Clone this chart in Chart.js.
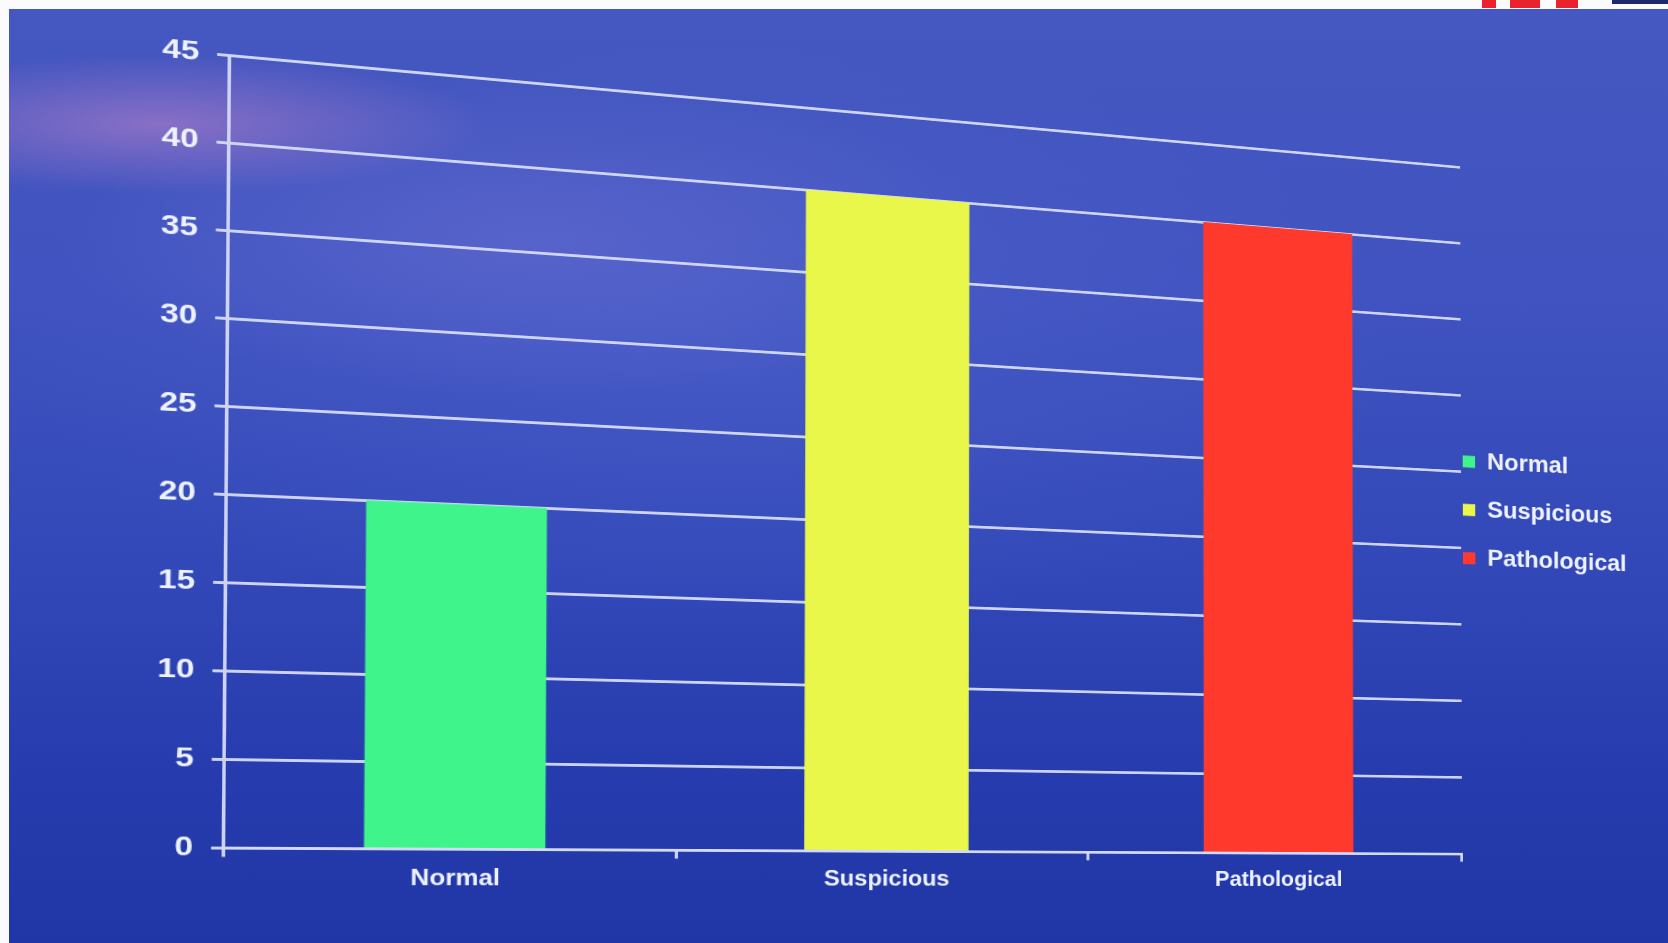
<!DOCTYPE html>
<html>
<head>
<meta charset="utf-8">
<script src="https://cdn.jsdelivr.net/npm/chart.js@4.4.1/dist/chart.umd.min.js"></script>
<style>
  html, body { margin: 0; padding: 0; width: 1668px; height: 943px; overflow: hidden; background: #fbfbfd; }
  #screen {
    position: absolute; left: 9px; top: 9px; right: 0; bottom: 0;
    background:
      radial-gradient(ellipse 330px 70px at 150px 115px, rgba(160, 120, 200, 0.75), rgba(160, 120, 200, 0) 100%),
      radial-gradient(ellipse 460px 160px at 520px 230px, rgba(120, 120, 215, 0.35), rgba(120, 120, 215, 0) 100%),
      radial-gradient(ellipse 700px 300px at 700px 330px, rgba(90, 110, 215, 0.3), rgba(90, 110, 215, 0) 100%),
      linear-gradient(180deg, #4557c0 0%, #4053c0 30%, #3248b8 60%, #263bad 82%, #2136a6 100%);
  }
  .logo { position: absolute; top: 0; height: 8px; }
  #chartWrap { position: absolute; left: 0; top: 0; width: 1668px; height: 943px; }
  #myChart { position: absolute; left: 0; top: 0; transform-origin: 0 0; }
</style>
</head>
<body>
<div id="screen"></div>
<div class="logo" style="left:1482px;width:14px;background:#e8232d"></div>
<div class="logo" style="left:1510px;width:30px;background:#e8232d"></div>
<div class="logo" style="left:1556px;width:22px;background:#e8232d"></div>
<div class="logo" style="left:1612px;width:56px;height:4px;background:#1c2a6e"></div>
<div id="chartWrap"><canvas id="myChart" width="1668" height="943"></canvas></div>
<script>
// chart data
const categories = ['Normal', 'Suspicious', 'Pathological'];
const values = [20, 40, 40];
const barColors = ['#3ff48a', '#e9f64a', '#ff392c'];
const yMin = 0;
const yMax = 45;
const yStep = 5;

const lineColor = 'rgba(212, 218, 248, 0.95)';
const textColor = '#eef2ff';
const legendGap = 30;

// where the plot rectangle lands on the slanted screen (TL, TR, BR, BL)
const screenCorners = [[229, 55], [1460, 167], [1462, 854], [223, 848]];

const ctx = document.getElementById('myChart');

// pull the legend in so the swatches sit right at the end of the grid
const legendShift = {
    id: 'legendShift',
    afterUpdate(chart) {
        const lg = chart.legend
        if (!lg) return
        lg.left -= legendGap - 2
        lg.right -= legendGap - 2
    }
}

const config = {
    type: 'bar',
    data: {
        labels: categories,
        datasets: [{
            label: 'Value',
            data: values,
            backgroundColor: barColors,
            borderWidth: 0,
            barPercentage: 0.4,
            categoryPercentage: 1
        }]
    },
    options: {
        responsive: false,
        animation: false,
        layout: {
            padding: { left: 164, top: 40, right: 0, bottom: 40 }
        },
        plugins: {
            tooltip: { enabled: false },
            legend: {
                position: 'right',
                fullSize: false,
                labels: {
                    color: textColor,
                    font: { family: 'Liberation Sans', size: 27, weight: 'bold' },
                    boxWidth: 14,
                    boxHeight: 14,
                    padding: legendGap,
                    generateLabels: (chart) => categories.map((name, i) => ({
                        text: name,
                        fillStyle: barColors[i],
                        strokeStyle: barColors[i],
                        lineWidth: 0,
                        fontColor: textColor,
                        hidden: false,
                        index: i
                    }))
                }
            }
        },
        scales: {
            x: {
                grid: {
                    drawOnChartArea: false,
                    drawTicks: true,
                    tickLength: 9,
                    color: lineColor,
                    lineWidth: 3
                },
                border: { color: lineColor, width: 3 },
                ticks: {
                    color: textColor,
                    padding: 8,
                    font: { family: 'Liberation Sans', size: 23, weight: 'bold' }
                }
            },
            y: {
                min: yMin,
                max: yMax,
                grid: {
                    color: lineColor,
                    lineWidth: 3,
                    tickLength: 10
                },
                border: { color: lineColor, width: 3 },
                ticks: {
                    stepSize: yStep,
                    color: textColor,
                    padding: 15,
                    font: { family: 'Liberation Sans', size: 28, weight: 'bold' }
                }
            }
        }
    },
    plugins: [legendShift]
}
const chart = new Chart(ctx, config)

// solve the 8 unknowns of a plane projective map from 4 point pairs
function homography(src, dst) {
    const A = [];
    const B = [];
    for (let i = 0; i < 4; i++) {
        const [x, y] = src[i];
        const [X, Y] = dst[i];
        A.push([x, y, 1, 0, 0, 0, -x * X, -y * X]); B.push(X);
        A.push([0, 0, 0, x, y, 1, -x * Y, -y * Y]); B.push(Y);
    }
    const n = 8;
    for (let c = 0; c < n; c++) {
        let p = c;
        for (let r = c + 1; r < n; r++) if (Math.abs(A[r][c]) > Math.abs(A[p][c])) p = r;
        [A[c], A[p]] = [A[p], A[c]];
        [B[c], B[p]] = [B[p], B[c]];
        for (let r = 0; r < n; r++) {
            if (r === c) continue;
            const f = A[r][c] / A[c][c];
            for (let k = c; k < n; k++) A[r][k] -= f * A[c][k];
            B[r] -= f * B[c];
        }
    }
    return B.map((v, i) => v / A[i][i]);
}

const area = chart.chartArea
const src = [[area.left, area.top], [area.right, area.top], [area.right, area.bottom], [area.left, area.bottom]]
const [a, b, c, d, e, f, g, h] = homography(src, screenCorners)
ctx.style.transform = `matrix3d(${a},${d},0,${g},${b},${e},0,${h},0,0,1,0,${c},${f},0,1)`
</script>
</body>
</html>
